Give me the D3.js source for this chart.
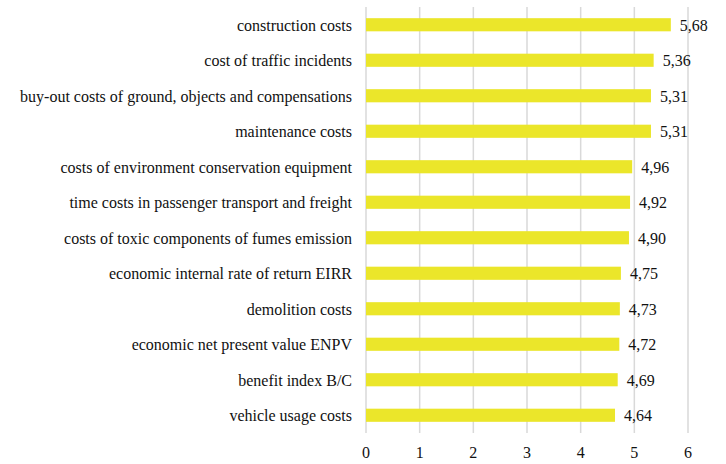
<!DOCTYPE html>
<html>
<head>
<meta charset="utf-8">
<script src="https://cdn.jsdelivr.net/npm/d3@7"></script>
</head>
<body style="margin:0">
<div id="chart"></div>
<script>
const categories = [
  'construction costs',
  'cost of traffic incidents',
  'buy-out costs of ground, objects and compensations',
  'maintenance costs',
  'costs of environment conservation equipment',
  'time costs in passenger transport and freight',
  'costs of toxic components of fumes emission',
  'economic internal rate of return EIRR',
  'demolition costs',
  'economic net present value ENPV',
  'benefit index B/C',
  'vehicle usage costs'
];
const values = [5.68, 5.36, 5.31, 5.31, 4.96, 4.92, 4.90, 4.75, 4.73, 4.72, 4.69, 4.64];
const ticks = [0, 1, 2, 3, 4, 5, 6];

const width = 726, height = 464;
const margin = { top: 7, right: 38, bottom: 31, left: 366 };
const font = 'Liberation Serif, Times New Roman, serif';

const svg = d3.select('#chart').append('svg')
  .attr('width', width)
  .attr('height', height);

const x = d3.scaleLinear()
  .domain([0, 6])
  .range([margin.left, width - margin.right]);

const y = d3.scaleBand()
  .domain(categories)
  .range([margin.top, height - margin.bottom])
  .paddingInner(0.63)
  .paddingOuter(0.315);

// vertical gridlines
svg.append('g')
  .selectAll('line')
  .data(ticks)
  .join('line')
  .attr('x1', d => x(d))
  .attr('x2', d => x(d))
  .attr('y1', margin.top)
  .attr('y2', height - margin.bottom)
  .attr('stroke', '#d9d9d9')
  .attr('stroke-width', 1.5);

// tick labels
svg.append('g')
  .selectAll('text')
  .data(ticks)
  .join('text')
  .attr('font-family', font)
  .attr('font-size', 16)
  .attr('fill', '#111')
  .attr('x', d => x(d))
  .attr('y', 458)
  .attr('text-anchor', 'middle')
  .text(d => d);

// bars
svg.append('g')
  .selectAll('rect')
  .data(values)
  .join('rect')
  .attr('x', x(0))
  .attr('y', (d, i) => y(categories[i]))
  .attr('width', d => x(d) - x(0))
  .attr('height', y.bandwidth())
  .attr('fill', '#ebe62a');

// category labels
svg.append('g')
  .selectAll('text')
  .data(categories)
  .join('text')
  .attr('font-family', font)
  .attr('font-size', 16)
  .attr('fill', '#111')
  .attr('x', margin.left - 14)
  .attr('y', d => y(d) + y.bandwidth() / 2 + 6)
  .attr('text-anchor', 'end')
  .text(d => d);

// value labels
const fmt = d3.format('.2f');
svg.append('g')
  .selectAll('text')
  .data(values)
  .join('text')
  .attr('font-family', font)
  .attr('font-size', 16)
  .attr('fill', '#111')
  .attr('x', d => x(d) + 9)
  .attr('y', (d, i) => y(categories[i]) + y.bandwidth() / 2 + 6)
  .text(d => fmt(d).replace('.', ','));
</script>
</body>
</html>
